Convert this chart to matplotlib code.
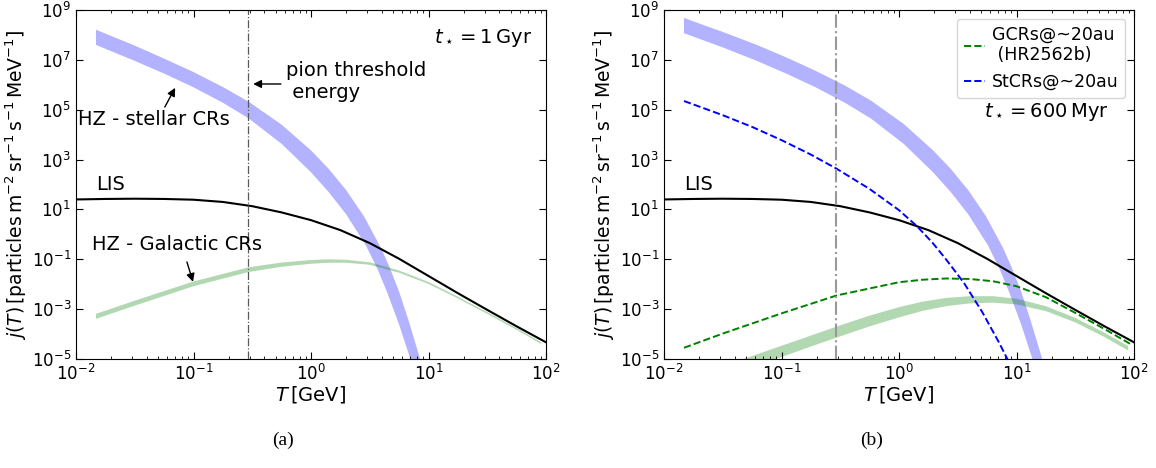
import numpy as np
import matplotlib
matplotlib.use('Agg')
import matplotlib.pyplot as plt

# ---- values (log10 of T [GeV] and log10 of j) ----
# local interstellar spectrum, same in both panels
lis_logT = [-2.0, -1.75, -1.5, -1.25, -1.0, -0.75, -0.5, -0.25, 0.0, 0.25, 0.5, 0.75, 1.0, 1.25, 1.5, 1.75, 2.0]
lis_logj = [1.40, 1.42, 1.43, 1.42, 1.39, 1.30, 1.13, 0.88, 0.57, 0.17, -0.35, -0.98, -1.67, -2.36, -3.03, -3.69, -4.33]

# (a) stellar CRs band, t = 1 Gyr
st_a_up_logT = [-1.83, -1.5, -1.25, -1.0, -0.75, -0.53, -0.25, 0.0, 0.15, 0.3, 0.45, 0.596, 0.667, 0.75, 0.83, 0.913, 0.94]
st_a_up_logj = [8.21, 7.57, 7.05, 6.51, 5.91, 5.32, 4.40, 3.37, 2.63, 1.77, 0.73, -0.55, -1.30, -2.30, -3.45, -4.75, -5.2]
st_a_lo_logT = [-1.83, -1.5, -1.25, -1.0, -0.75, -0.53, -0.25, 0.0, 0.15, 0.3, 0.468, 0.567, 0.65, 0.75, 0.845, 0.87]
st_a_lo_logj = [7.6, 6.96, 6.45, 5.9, 5.28, 4.65, 3.63, 2.49, 1.70, 0.8, -0.45, -1.4, -2.35, -3.62, -4.99, -5.37]

# (a) galactic CRs band
gal_a_logT = [-1.83, -1.5, -1.0, -0.53, -0.25, 0.0, 0.15, 0.3, 0.5, 0.75, 1.0, 1.25, 1.5, 1.75, 1.96]
gal_a_up = [-3.19, -2.66, -1.89, -1.32, -1.13, -1.03, -1.0, -1.02, -1.12, -1.45, -1.91, -2.5, -3.12, -3.76, -4.33]
gal_a_lo = [-3.39, -2.86, -2.08, -1.51, -1.30, -1.18, -1.14, -1.14, -1.22, -1.54, -1.99, -2.57, -3.19, -3.83, -4.40]

# (b) stellar CRs band, t = 600 Myr
st_b_up_logT = [-1.83, -1.5, -1.21, -0.96, -0.71, -0.46, -0.24, 0.04, 0.29, 0.44, 0.59, 0.74, 0.886, 0.957, 1.04, 1.12, 1.203, 1.23]
st_b_up_logj = [8.68, 8.12, 7.6, 7.1, 6.56, 5.97, 5.37, 4.43, 3.37, 2.63, 1.77, 0.73, -0.55, -1.30, -2.30, -3.45, -4.75, -5.2]
st_b_lo_logT = [-1.83, -1.5, -1.21, -0.96, -0.71, -0.46, -0.24, 0.04, 0.29, 0.44, 0.59, 0.758, 0.857, 0.94, 1.04, 1.135, 1.16]
st_b_lo_logj = [8.07, 7.5, 6.96, 6.45, 5.9, 5.28, 4.65, 3.63, 2.49, 1.70, 0.8, -0.45, -1.4, -2.35, -3.62, -4.99, -5.37]

# (b) galactic CRs band in the HZ
gal_b_logT = [-1.5, -1.25, -1.0, -0.75, -0.5, -0.25, 0.0, 0.2, 0.4, 0.6, 0.8, 1.0, 1.25, 1.5, 1.75, 1.95]
gal_b_up = [-5.3, -4.88, -4.47, -4.06, -3.65, -3.26, -2.92, -2.7, -2.55, -2.48, -2.48, -2.58, -2.88, -3.35, -3.95, -4.48]
gal_b_lo = [-5.78, -5.34, -4.92, -4.5, -4.09, -3.69, -3.33, -3.07, -2.88, -2.77, -2.74, -2.81, -3.08, -3.53, -4.12, -4.66]

# (b) GCRs @ ~20 au (HR2562b), dashed green
gcr20_logT = [-1.83, -1.5, -1.0, -0.53, -0.25, 0.0, 0.2, 0.4, 0.6, 0.8, 1.0, 1.25, 1.5, 1.75, 1.97]
gcr20_logj = [-4.55, -3.98, -3.17, -2.45, -2.17, -1.92, -1.82, -1.77, -1.79, -1.88, -2.08, -2.52, -3.15, -3.8, -4.4]

# (b) StCRs @ ~20 au, dashed blue
stcr20_logT = [-1.83, -1.5, -1.25, -1.0, -0.75, -0.53, -0.25, 0.0, 0.15, 0.284, 0.4, 0.553, 0.709, 0.851, 0.93]
stcr20_logj = [5.35, 4.78, 4.31, 3.78, 3.2, 2.63, 1.82, 0.97, 0.34, -0.33, -1.0, -1.95, -3.12, -4.34, -5.07]

pion_T = 0.29  # GeV


def p10(a):
    return 10.0 ** np.asarray(a)


def band(ax, xu, yu, xl, yl, color):
    xs = np.concatenate([p10(xu), p10(xl)[::-1]])
    ys = np.concatenate([p10(yu), p10(yl)[::-1]])
    ax.fill(xs, ys, color=color, alpha=0.3, lw=0)


def style(ax):
    ax.set_xscale('log')
    ax.set_yscale('log')
    ax.set_xlim(1e-2, 1e2)
    ax.set_ylim(1e-5, 1e9)
    ax.set_yticks([1e-5, 1e-3, 1e-1, 1e1, 1e3, 1e5, 1e7, 1e9])
    ax.yaxis.set_minor_locator(matplotlib.ticker.NullLocator())
    ax.tick_params(which='both', direction='in', top=True, right=True, labelsize=12)
    ax.tick_params(which='major', length=5)
    ax.tick_params(which='minor', length=2.5)
    ax.set_xlabel(r'$T\,[\mathrm{GeV}]$', fontsize=14, labelpad=0)
    ax.set_ylabel(r'$j(T)\,[\mathrm{particles\,m^{-2}\,sr^{-1}\,s^{-1}\,MeV^{-1}}]$', fontsize=13.5, labelpad=2)


fig = plt.figure(figsize=(11.56, 4.68), dpi=100)
ax1 = fig.add_axes([76 / 1156, 109 / 468, 470 / 1156, 349 / 468])
ax2 = fig.add_axes([664 / 1156, 109 / 468, 470 / 1156, 349 / 468])

# ---------- panel (a) ----------
band(ax1, st_a_up_logT, st_a_up_logj, st_a_lo_logT, st_a_lo_logj, 'blue')
band(ax1, gal_a_logT, gal_a_up, gal_a_logT, gal_a_lo, 'green')
ax1.plot(p10(lis_logT), p10(lis_logj), color='k', lw=1.5)
ax1.axvline(pion_T, color='0.35', lw=0.9, ls='-.')
style(ax1)

fs = 14
arrow = dict(arrowstyle='-|>', color='k', lw=1, mutation_scale=12, shrinkA=0, shrinkB=0)
ax1.text(0.97, 0.92, r'$t_\star=1\,\mathrm{Gyr}$', transform=ax1.transAxes, fontsize=fs, ha='right', va='center')
ax1.text(0.447, 0.795, 'pion threshold\n energy', transform=ax1.transAxes, fontsize=fs, ha='left', va='center')
ax1.annotate('', xy=(0.377, 0.788), xytext=(0.436, 0.788), xycoords='axes fraction', arrowprops=arrow)
ax1.text(0.004, 0.685, 'HZ - stellar CRs', transform=ax1.transAxes, fontsize=fs, ha='left', va='center')
ax1.annotate('', xy=(0.211, 0.777), xytext=(0.189, 0.722), xycoords='axes fraction', arrowprops=arrow)
ax1.text(0.043, 0.499, 'LIS', transform=ax1.transAxes, fontsize=fs, ha='left', va='center')
ax1.text(0.034, 0.327, 'HZ - Galactic CRs', transform=ax1.transAxes, fontsize=fs, ha='left', va='center')
ax1.annotate('', xy=(0.249, 0.221), xytext=(0.236, 0.278), xycoords='axes fraction', arrowprops=arrow)

# ---------- panel (b) ----------
band(ax2, st_b_up_logT, st_b_up_logj, st_b_lo_logT, st_b_lo_logj, 'blue')
band(ax2, gal_b_logT, gal_b_up, gal_b_logT, gal_b_lo, 'green')
ax2.plot(p10(lis_logT), p10(lis_logj), color='k', lw=1.5)
ax2.plot(p10(gcr20_logT), p10(gcr20_logj), color='green', ls='--', lw=1.4,
         label='GCRs@~20au\n (HR2562b)')
ax2.plot(p10(stcr20_logT), p10(stcr20_logj), color='blue', ls='--', lw=1.4,
         label='StCRs@~20au')
ax2.axvline(pion_T, color='0.6', lw=1.5, ls='-.')
style(ax2)
ax2.text(0.947, 0.708, r'$t_\star=600\,\mathrm{Myr}$', transform=ax2.transAxes, fontsize=fs, ha='right', va='center')
ax2.text(0.043, 0.499, 'LIS', transform=ax2.transAxes, fontsize=fs, ha='left', va='center')
ax2.legend(loc='upper right', fontsize=12.5, handlelength=1.2, handletextpad=0.4, borderpad=0.4)

# sub-figure captions
fig.text(283 / 1156, 1 - 440 / 468, '(a)', fontsize=14, family='Liberation Serif', ha='center', va='center')
fig.text(872 / 1156, 1 - 440 / 468, '(b)', fontsize=14, family='Liberation Serif', ha='center', va='center')

fig.savefig('out.png', dpi=100)
